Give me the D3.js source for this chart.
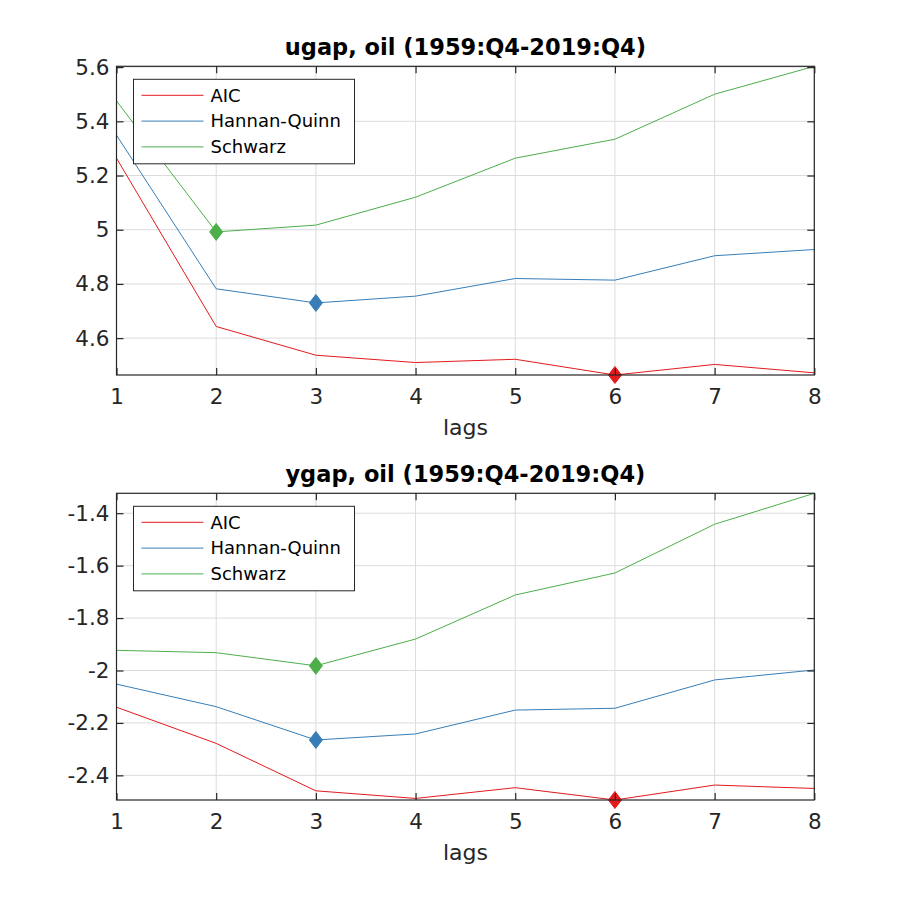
<!DOCTYPE html>
<html>
<head>
<meta charset="utf-8">
<script src="https://cdn.jsdelivr.net/npm/d3@7/dist/d3.min.js"></script>
<style>
body{margin:0;background:#fff;}
svg{display:block;font-family:"DejaVu Sans",sans-serif;}
</style>
</head>
<body>
<svg id="chart" width="900" height="900"></svg>
<script>
const lags = [1,2,3,4,5,6,7,8];
const seriesNames = ["AIC","Hannan-Quinn","Schwarz"];
const colors = ["#e41a1c","#377eb8","#4daf4a"];

const titles = ["ugap, oil (1959:Q4-2019:Q4)","ygap, oil (1959:Q4-2019:Q4)"];

const ugapAIC = [5.264,4.643,4.537,4.510,4.522,4.464,4.503,4.472];
const ugapHQ  = [5.349,4.782,4.730,4.755,4.820,4.814,4.904,4.927];
const ugapSC  = [5.475,4.992,5.017,5.120,5.264,5.334,5.500,5.603];

const ygapAIC = [-2.140,-2.278,-2.459,-2.488,-2.447,-2.494,-2.437,-2.450];
const ygapHQ  = [-2.052,-2.138,-2.265,-2.242,-2.151,-2.144,-2.036,-1.998];
const ygapSC  = [-1.923,-1.932,-1.982,-1.880,-1.712,-1.628,-1.442,-1.324];

const ugapTicks = [4.6,4.8,5,5.2,5.4,5.6];
const ygapTicks = [-2.4,-2.2,-2,-1.8,-1.6,-1.4];

const panels = [
  {title:titles[0], series:[ugapAIC,ugapHQ,ugapSC], yticks:ugapTicks, top:66.3, bottom:375},
  {title:titles[1], series:[ygapAIC,ygapHQ,ygapSC], yticks:ygapTicks, top:493.3, bottom:800}
];

const svg = d3.select("#chart");
const left = 116.5, right = 814.3;
const axisColor = "#262626";

panels.forEach(p => {
  const all = p.series.flat();
  const x = d3.scaleLinear().domain([1,8]).range([left,right]);
  const y = d3.scaleLinear().domain([d3.min(all), d3.max(all)]).range([p.bottom,p.top]);
  const g = svg.append("g");

  // grid
  g.append("g").selectAll("line.gx").data(lags).join("line")
    .attr("x1",d=>x(d)).attr("x2",d=>x(d)).attr("y1",p.top).attr("y2",p.bottom)
    .attr("stroke","#dcdcdc").attr("stroke-width",1);
  g.append("g").selectAll("line.gy").data(p.yticks).join("line")
    .attr("x1",left).attr("x2",right).attr("y1",d=>y(d)).attr("y2",d=>y(d))
    .attr("stroke","#dcdcdc").attr("stroke-width",1);

  // lines
  const line = d3.line().x((d,i)=>x(lags[i])).y(d=>y(d));
  p.series.forEach((s,k)=>{
    g.append("path").datum(s).attr("d",line).attr("fill","none")
      .attr("stroke",colors[k]).attr("stroke-width",1);
  });

  // minima markers
  p.series.forEach((s,k)=>{
    const idx = d3.minIndex(s);
    const cx = x(lags[idx]), cy = y(s[idx]);
    g.append("path")
      .attr("d",`M${cx},${cy-8.5}L${cx+6.5},${cy}L${cx},${cy+8.5}L${cx-6.5},${cy}Z`)
      .attr("fill",colors[k]).attr("stroke",colors[k]).attr("stroke-width",1);
  });

  // box
  g.append("rect").attr("x",left).attr("y",p.top).attr("width",right-left).attr("height",p.bottom-p.top)
    .attr("fill","none").attr("stroke",axisColor).attr("stroke-width",1.2);

  // axes with inner ticks
  const xb = d3.axisBottom(x).tickValues(lags).tickSizeInner(-7).tickSizeOuter(0).tickPadding(14).tickFormat(d3.format("d"));
  const xt = d3.axisTop(x).tickValues(lags).tickSizeInner(-7).tickSizeOuter(0).tickFormat("");
  const yl = d3.axisLeft(y).tickValues(p.yticks).tickSizeInner(-7).tickSizeOuter(0).tickPadding(7).tickFormat(d=>String(d).replace("\u2212","-"));
  const yr = d3.axisRight(y).tickValues(p.yticks).tickSizeInner(-7).tickSizeOuter(0).tickFormat("");
  [[xb,`translate(0,${p.bottom})`],[xt,`translate(0,${p.top})`],[yl,`translate(${left},0)`],[yr,`translate(${right},0)`]].forEach(([a,t])=>{
    const ag = g.append("g").attr("transform",t).call(a);
    ag.select(".domain").remove();
    ag.selectAll(".tick line").attr("stroke",axisColor).attr("stroke-width",1.2);
    ag.selectAll(".tick text").attr("fill",axisColor).style("font-size","21.5px").style("font-family","DejaVu Sans");
  });

  // labels
  g.append("text").attr("x",(left+right)/2).attr("y",p.bottom+60).attr("text-anchor","middle")
    .attr("fill",axisColor).style("font-size","22px").text("lags");
  g.append("text").attr("x",(left+right)/2).attr("y",p.top-11).attr("text-anchor","middle")
    .attr("fill","#000").style("font-size","22.5px").style("font-weight","bold").text(p.title);

  // legend
  const lx = 133.5, ly = p.top+13, lw = 221, lh = 84.5;
  const lg = g.append("g");
  lg.append("rect").attr("x",lx).attr("y",ly).attr("width",lw).attr("height",lh)
    .attr("fill","#fff").attr("stroke",axisColor).attr("stroke-width",1);
  seriesNames.forEach((n,k)=>{
    const yy = ly + 16 + k*25.8;
    lg.append("line").attr("x1",lx+8).attr("x2",lx+70).attr("y1",yy).attr("y2",yy)
      .attr("stroke",colors[k]).attr("stroke-width",1);
    lg.append("text").attr("x",lx+77).attr("y",yy).attr("dy","0.35em")
      .attr("fill","#000").style("font-size","18px").text(n);
  });
});
</script>
</body>
</html>
